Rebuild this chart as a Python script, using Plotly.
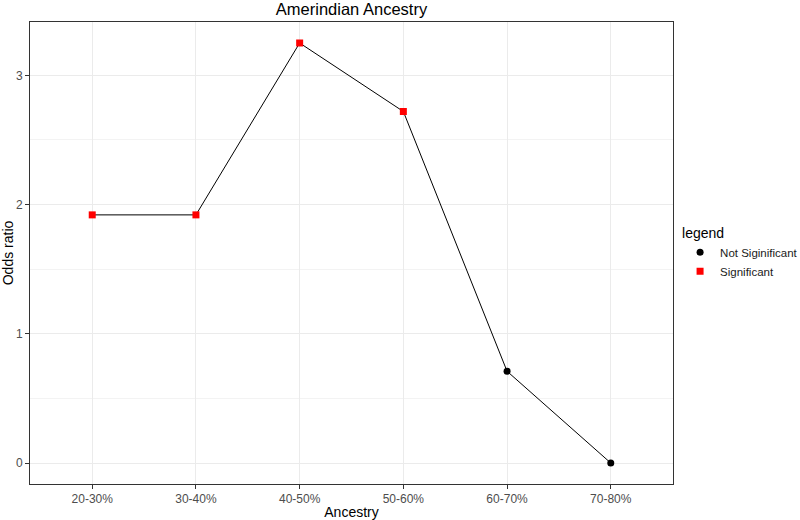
import plotly.graph_objects as go

categories = ["20-30%", "30-40%", "40-50%", "50-60%", "60-70%", "70-80%"]
odds_ratio = [1.92, 1.92, 3.25, 2.72, 0.71, 0.0]
significance = ["Significant", "Significant", "Significant", "Significant",
                "Not Siginificant", "Not Siginificant"]

styles = {
    "Not Siginificant": dict(color="black", symbol="circle"),
    "Significant": dict(color="red", symbol="square"),
}

fig = go.Figure()
fig.add_trace(go.Scatter(x=categories, y=odds_ratio, mode="lines",
                         line=dict(color="black", width=1), showlegend=False,
                         hoverinfo="skip"))
for level in ["Not Siginificant", "Significant"]:
    xs = [c for c, s in zip(categories, significance) if s == level]
    ys = [v for v, s in zip(odds_ratio, significance) if s == level]
    fig.add_trace(go.Scatter(x=xs, y=ys, mode="markers", name=level,
                             marker=dict(color=styles[level]["color"],
                                         symbol=styles[level]["symbol"], size=7)))

axis_common = dict(showline=True, linecolor="#333333", linewidth=1, mirror=True,
                   gridcolor="#EBEBEB", gridwidth=1, zeroline=False,
                   ticks="outside", ticklen=4, tickcolor="#333333", automargin=False,
                   tickfont=dict(color="#4D4D4D", size=12))

fig.update_xaxes(type="category", categoryorder="array", categoryarray=categories,
                 range=[-0.6, 5.6],
                 title=dict(text="Ancestry", font=dict(size=14, color="black")),
                 **axis_common)
fig.update_yaxes(range=[-0.1625, 3.4125], tickvals=[0, 1, 2, 3],
                 minor=dict(showgrid=True, tickvals=[0.5, 1.5, 2.5],
                            gridcolor="#F3F3F3", gridwidth=1, ticks=""),
                 title=dict(text="Odds ratio", font=dict(size=14, color="black")),
                 **axis_common)

fig.update_layout(
    width=800, height=520,
    font=dict(family="Liberation Sans, Arial, sans-serif"),
    paper_bgcolor="white", plot_bgcolor="white",
    margin=dict(l=30, r=127, t=22, b=36, autoexpand=False),
    title=dict(text="Amerindian Ancestry", x=(30 + 673) / 2 / 800, xanchor="center",
               y=1 - 9 / 520, yanchor="middle", font=dict(size=16.5, color="black")),
    legend=dict(title=dict(text="legend", font=dict(size=14, color="black")),
                x=1.011, xanchor="left", y=0.5, yanchor="middle",
                font=dict(size=11.5, color="#1a1a1a"), tracegroupgap=2,
                itemwidth=30),
)

# the page body has a default 8px margin; drop it so the figure sits at 0,0
fig.write_html("out.html", config={"displayModeBar": False},
               post_script="document.body.style.margin='0';")
